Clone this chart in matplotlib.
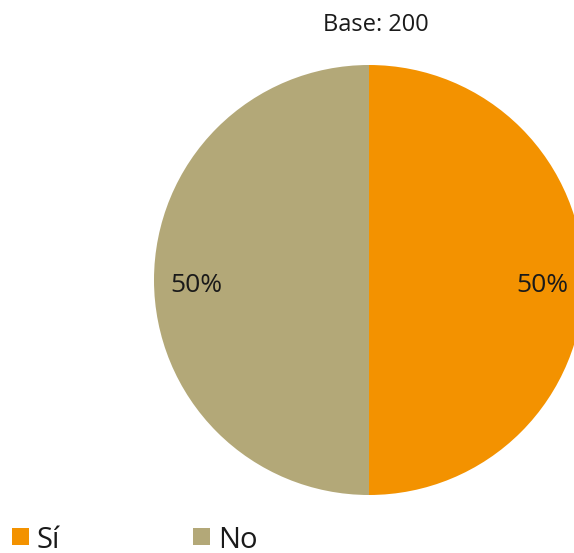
import matplotlib.pyplot as plt
from matplotlib.patches import Rectangle

plt.rcParams['font.family'] = ['Open Sans', 'DejaVu Sans']

labels = ["Sí", "No"]
values = [50, 50]
colors = ["#F39200", "#B3A878"]
base_n = 200

W, H = 574, 553
fig = plt.figure(figsize=(W / 100, H / 100), dpi=100)
ax = fig.add_axes([0, 0, 1, 1])

wedges, _, autotexts = ax.pie(
    values, colors=colors, startangle=90, counterclock=False,
    center=(369, H - 280), radius=215,
    autopct="%1.0f%%", pctdistance=0.8,
    wedgeprops=dict(linewidth=0),
    textprops=dict(fontsize=19, color="#1a1a1a"),
)
# nudge the percentage labels slightly below the centre line
for t, dx in zip(autotexts, [1, -1]):
    x, y = t.get_position()
    t.set_position((x + dx, y - 6))
ax.set_xlim(0, W)
ax.set_ylim(0, H)
ax.set_aspect("equal")
ax.axis("off")

ax.text(376, H - 25, f"Base: {base_n}", ha="center", va="center",
        fontsize=17, color="#1a1a1a")

# legend drawn by hand along the bottom edge
legend_x = [12, 193]
for x0, lab, col in zip(legend_x, labels, colors):
    ax.add_patch(Rectangle((x0, H - 545), 17, 17, facecolor=col, edgecolor="none"))
    ax.text(x0 + 25, H - 540, lab, ha="left", va="center", fontsize=21,
            color="#1a1a1a")

fig.savefig("out.png", dpi=100)
